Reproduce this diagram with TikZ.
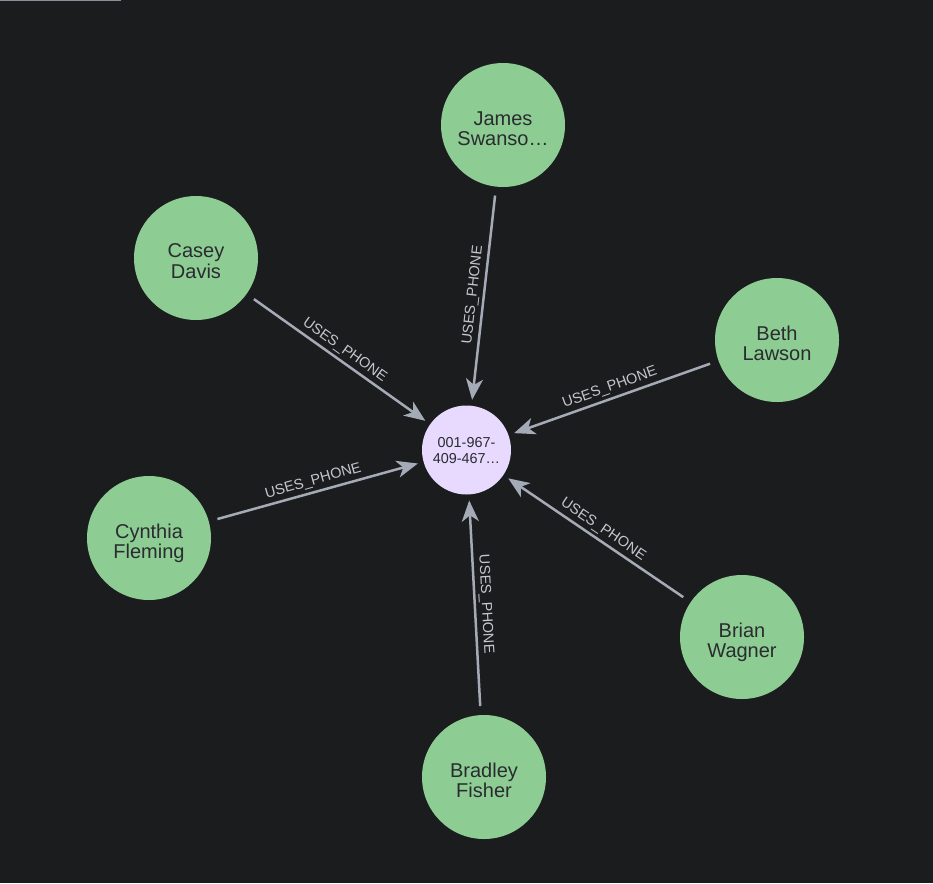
\documentclass[tikz,border=0pt]{standalone}
\usepackage{fontspec}
\setmainfont{Liberation Sans}
\usetikzlibrary{arrows.meta}
\definecolor{bg}{HTML}{1B1C1E}
\definecolor{topline}{HTML}{8A9099}
\definecolor{persongreen}{HTML}{8DCC93}
\definecolor{phonepurple}{HTML}{E8D9FF}
\definecolor{nodetext}{HTML}{2A2C30}
\definecolor{edgegrey}{HTML}{A5ABB6}
\definecolor{lblgrey}{HTML}{C4C8CE}
\newcommand\twolines[3]{\raisebox{0pt}[\dimexpr\height+#1\relax][\depth]{\begin{tabular}{@{}c@{}}#2\\#3\end{tabular}}}
\tikzset{
  person/.style={circle, fill=persongreen, minimum size=124pt, inner sep=0pt, outer sep=0pt,
    text=nodetext, font=\fontsize{20}{20}\selectfont},
  phone/.style={circle, fill=phonepurple, minimum size=89pt, inner sep=0pt, outer sep=0pt,
    text=nodetext, font=\fontsize{14.4}{15.5}\selectfont},
  rel/.style={draw=edgegrey, line width=2.5pt, -{Stealth[length=21pt,width=17pt,inset=6pt]},
    shorten <=9pt, shorten >=6pt},
  lbl/.style={midway, sloped, above, inner sep=2pt, yshift=1pt, text=lblgrey,
    font=\fontsize{14.5}{15}\selectfont}
}
\begin{document}
\begin{tikzpicture}[x=1pt,y=-1pt]
\fill[bg] (0,0) rectangle (933,883);
\useasboundingbox (0,0) rectangle (933,883);
\fill[topline] (0,0) rectangle (121,1.5);

\node[phone] (phone) at (466.5,450) {\twolines{5pt}{001-967-}{409-467…}};
\node[person] (james) at (503,125) {\twolines{12pt}{James}{Swanso…}};
\node[person] (casey) at (196,258) {\twolines{12pt}{Casey}{Davis}};
\node[person] (beth) at (777,340) {\twolines{12pt}{Beth}{Lawson}};
\node[person] (cynthia) at (149,538) {\twolines{12pt}{Cynthia}{Fleming}};
\node[person] (brian) at (742,637) {\twolines{12pt}{Brian}{Wagner}};
\node[person] (bradley) at (484,777) {\twolines{12pt}{Bradley}{Fisher}};

\draw[rel] (james) -- node[lbl]{USES\_PHONE} (phone);
\draw[rel] (casey) -- node[lbl]{USES\_PHONE} (phone);
\draw[rel] (beth) -- node[lbl]{USES\_PHONE} (phone);
\draw[rel] (cynthia) -- node[lbl]{USES\_PHONE} (phone);
\draw[rel] (brian) -- node[lbl]{USES\_PHONE} (phone);
\draw[rel] (bradley) -- node[lbl]{USES\_PHONE} (phone);
\end{tikzpicture}
\end{document}
